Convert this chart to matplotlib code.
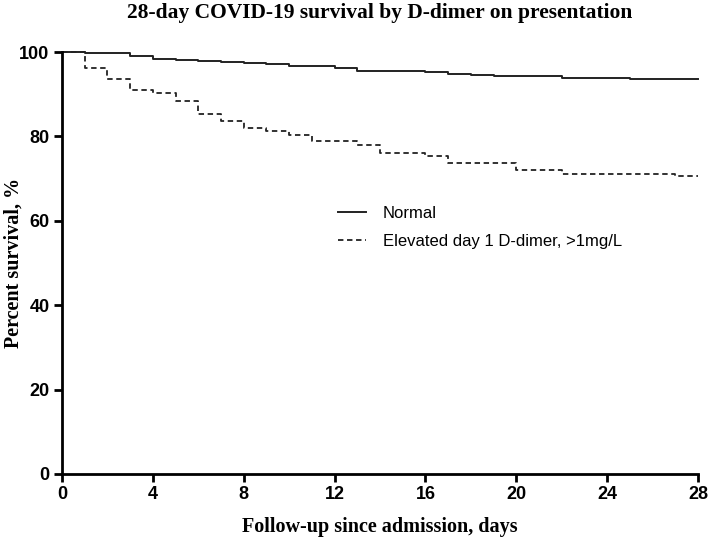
"""
Kaplan-Meier style 28-day survival, normal vs elevated D-dimer.
"""
import matplotlib
matplotlib.use("Agg")
import matplotlib.pyplot as plt

# ── data ──
normal_days = [0, 1, 3, 4, 5, 6, 7, 8, 9, 10, 12, 13, 16, 17, 18, 19, 22, 25, 28]
normal_surv = [100, 99.7, 99.05, 98.3, 98.0, 97.8, 97.6, 97.4, 97.1, 96.7,
               96.1, 95.6, 95.2, 94.8, 94.5, 94.2, 93.9, 93.5, 93.5]

elev_days = [0, 1, 2, 3, 4, 5, 6, 7, 8, 9, 10, 11, 13, 14, 16, 17, 20, 22, 27, 28]
elev_surv = [100, 96.1, 93.6, 91.1, 90.4, 88.5, 85.3, 83.6, 82.0, 81.2, 80.3,
             78.8, 77.9, 76.1, 75.4, 73.6, 72.0, 71.2, 70.5, 70.5]

x_ticks = [0, 4, 8, 12, 16, 20, 24, 28]
y_ticks = [0, 20, 40, 60, 80, 100]

title = "28-day COVID-19 survival by D-dimer on presentation"
x_label = "Follow-up since admission, days"
y_label = "Percent survival, %"
labels = ["Normal", "Elevated day 1 D-dimer, >1mg/L"]

SERIF = ["Liberation Serif", "DejaVu Serif"]
SANS = ["Liberation Sans", "DejaVu Sans"]

fig = plt.figure(figsize=(7.09, 5.44), dpi=100)
ax = fig.add_axes([0.0874, 0.1287, 0.8971, 0.7757])

ax.step(normal_days, normal_surv, where="post", color="#222222",
        linewidth=1.4, label=labels[0], clip_on=False)
ax.step(elev_days, elev_surv, where="post", color="#222222",
        linewidth=1.3, linestyle=(0, (3, 2)), label=labels[1], clip_on=False)

ax.set_xlim(0, 28)
ax.set_ylim(0, 100)
ax.set_xticks(x_ticks)
ax.set_yticks(y_ticks)

for side in ("top", "right"):
    ax.spines[side].set_visible(False)
for side in ("left", "bottom"):
    ax.spines[side].set_linewidth(2)
ax.tick_params(direction="out", length=6, width=2, pad=3)
for lab in ax.get_xticklabels() + ax.get_yticklabels():
    lab.set_fontfamily(SANS)
    lab.set_fontweight("bold")
    lab.set_fontsize(13)

# 标题与坐标轴标签（衬线粗体）
fig.text(380 / 709, 1 - 13 / 544, title, family=SERIF, fontweight="bold",
         fontsize=15.5, ha="center", va="center")
ax.set_xlabel(x_label, family=SERIF, fontweight="bold", fontsize=14.5)
ax.xaxis.set_label_coords(0.5, -0.103)
ax.set_ylabel(y_label, family=SERIF, fontweight="bold", fontsize=14.5)
ax.yaxis.set_label_coords(-0.06, 0.5)

ax.legend(loc="upper left", bbox_to_anchor=(0.434, 0.636), frameon=False,
          prop={"family": SANS, "size": 12}, handlelength=1.7,
          handletextpad=1.0, labelspacing=0.8, borderpad=0, borderaxespad=0)

fig.savefig("out.png", dpi=100)
